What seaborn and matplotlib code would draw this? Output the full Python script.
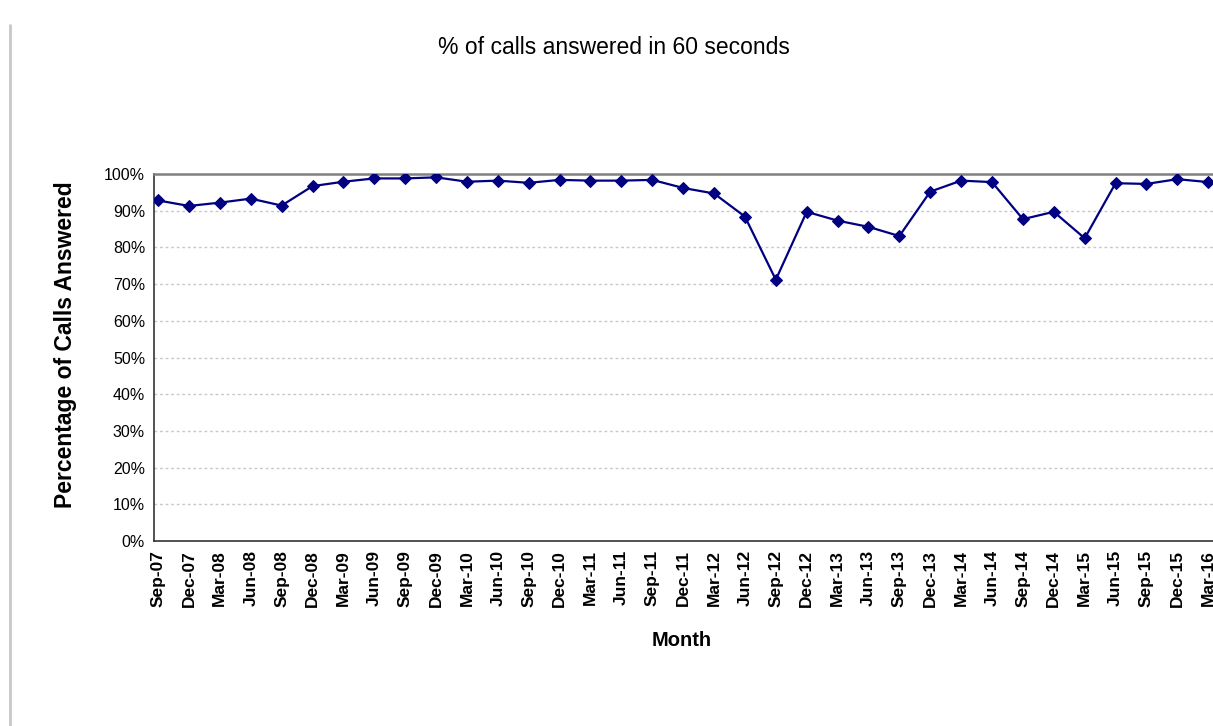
import matplotlib
matplotlib.use("Agg")
import matplotlib.pyplot as plt
import seaborn as sns
import pandas as pd
from matplotlib.lines import Line2D

# quarterly months, Sep-07 .. Mar-16
months = ["Sep-07", "Dec-07", "Mar-08", "Jun-08", "Sep-08", "Dec-08", "Mar-09", "Jun-09",
          "Sep-09", "Dec-09", "Mar-10", "Jun-10", "Sep-10", "Dec-10", "Mar-11", "Jun-11",
          "Sep-11", "Dec-11", "Mar-12", "Jun-12", "Sep-12", "Dec-12", "Mar-13", "Jun-13",
          "Sep-13", "Dec-13", "Mar-14", "Jun-14", "Sep-14", "Dec-14", "Mar-15", "Jun-15",
          "Sep-15", "Dec-15", "Mar-16"]
pct_answered = [92.8, 91.3, 92.2, 93.3, 91.4, 96.7, 97.9, 98.8,
                98.8, 99.1, 97.9, 98.2, 97.6, 98.4, 98.2, 98.2,
                98.4, 96.2, 94.7, 88.4, 71.2, 89.7, 87.3, 85.6,
                83.1, 95.2, 98.2, 97.8, 87.7, 89.7, 82.5, 97.5,
                97.3, 98.6, 97.8]
y_ticks = [0, 10, 20, 30, 40, 50, 60, 70, 80, 90, 100]

df = pd.DataFrame({"pos": range(len(months)), "pct": pct_answered})

sns.set_style("white")
plt.rcParams["font.family"] = ["Liberation Sans", "DejaVu Sans"]
plt.rcParams["text.color"] = "black"
plt.rcParams["xtick.color"] = "black"
plt.rcParams["ytick.color"] = "black"

fig = plt.figure(figsize=(12.13, 7.26), dpi=100)
ax = fig.add_axes([0.127, 0.2548, 0.8818, 0.5055])

# dashed gridlines
for t in y_ticks[1:-1]:
    ax.axhline(t, color="#c8c8c8", lw=1, ls=(0, (2, 2)), zorder=0)

sns.lineplot(data=df, x="pos", y="pct", ax=ax, color="#000080", lw=1.6,
             marker="D", markersize=6.5, markeredgecolor="#000080", zorder=3)

ax.set_xlim(-0.13, 34.5)
ax.set_ylim(0, 100)
ax.set_xticks(range(len(months)))
ax.set_xticklabels(months, rotation=90, fontsize=12.5, fontweight="bold")
ax.set_yticks(y_ticks)
ax.set_yticklabels([f"{t}%" for t in y_ticks], fontsize=11.5)
ax.tick_params(axis="both", direction="inout", length=7, width=1, color="#333333",
               labelcolor="black", pad=3)
ax.set_xlabel("")
ax.set_ylabel("")

for s in ["left", "bottom"]:
    ax.spines[s].set_color("#333333")
    ax.spines[s].set_linewidth(1.2)
ax.spines["top"].set_color("#808080")
ax.spines["top"].set_linewidth(1.8)
ax.spines["right"].set_visible(False)

fig.text(0.506, 0.935, "% of calls answered in 60 seconds", ha="center", va="center",
         fontsize=16.5, color="black")
fig.text(0.0536, 0.525, "Percentage of Calls Answered", rotation=90, ha="center", va="center",
         fontsize=16.5, fontweight="bold", color="black")
fig.text(0.562, 0.118, "Month", ha="center", va="center", fontsize=14.5, fontweight="bold",
         color="black")

# left border of the surrounding frame
fig.add_artist(Line2D([0.0085, 0.0085], [0, 0.966], color="#c8c8c8", lw=2))

fig.savefig("out.png", dpi=100)
